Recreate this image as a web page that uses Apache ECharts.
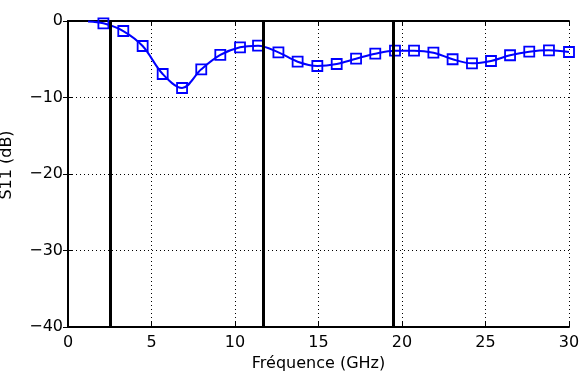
<!DOCTYPE html>
<html><head><meta charset="utf-8">
<script src="https://cdn.jsdelivr.net/npm/echarts@6/dist/echarts.min.js"></script>
<style>html,body{margin:0;padding:0;background:#fff}#c{width:582px;height:372px}</style>
</head><body><div id="c"></div>
<script>
var freqGHz = [1.2, 2.12, 3.31, 4.47, 5.67, 6.83, 7.98, 9.12, 10.30, 11.38, 12.6, 13.75, 14.93, 16.09, 17.25, 18.40, 19.58, 20.72, 21.88, 23.03, 24.19, 25.33, 26.47, 27.62, 28.8, 30.0];
var s11dB = [-0.05, -0.3, -1.31, -3.27, -6.93, -8.76, -6.32, -4.44, -3.44, -3.22, -4.1, -5.32, -5.88, -5.62, -4.93, -4.27, -3.88, -3.88, -4.14, -5.0, -5.53, -5.23, -4.48, -4.01, -3.83, -4.05];
var bandEdges = [2.5, 11.7, 19.45];
var xTicks = [0, 5, 10, 15, 20, 25, 30];
var yTicks = [-40, -30, -20, -10, 0];

var font = 'DejaVu Sans, sans-serif';
var data = freqGHz.map(function (f, i) {
  var it = { value: [f, s11dB[i]] };
  if (i === 0) it.symbol = 'none';
  return it;
});
function minus(v) { return String(v).replace('-', '\u2212'); }

var chart = echarts.init(document.getElementById('c'), null, { renderer: 'canvas' });
chart.setOption({
  animation: false,
  backgroundColor: '#fff',
  grid: { left: 68, right: 13, top: 21, bottom: 45, show: false, containLabel: false, outerBoundsMode: 'none' },
  xAxis: [{
    type: 'value', min: xTicks[0], max: xTicks[xTicks.length - 1], interval: 5,
    name: 'Fréquence (GHz)', nameLocation: 'middle', nameGap: 27,
    nameTextStyle: { fontFamily: font, fontSize: 16, color: '#000' },
    axisLine: { show: true, onZero: false, lineStyle: { color: '#000', width: 2 } },
    axisTick: { show: true, inside: true, length: 5, lineStyle: { color: '#000' } },
    axisLabel: { fontFamily: font, fontSize: 16, color: '#000', margin: 8 },
    splitLine: { show: true, lineStyle: { color: '#000', type: [1, 3], width: 1 } }
  }, {
    type: 'value', position: 'top', min: 0, max: 30, interval: 5,
    axisLine: { show: true, lineStyle: { color: '#000', width: 2 } },
    axisTick: { show: true, inside: true, length: 5, lineStyle: { color: '#000' } },
    axisLabel: { show: false }, splitLine: { show: false }
  }],
  yAxis: [{
    type: 'value', min: yTicks[0], max: yTicks[yTicks.length - 1], interval: 10,
    name: 'S11 (dB)', nameLocation: 'middle', nameGap: 53, nameRotate: 90,
    nameTextStyle: { fontFamily: font, fontSize: 16, color: '#000', padding: [0, 0, 0, 18] },
    axisLine: { show: true, onZero: false, lineStyle: { color: '#000', width: 2 } },
    axisTick: { show: true, inside: true, length: 5, lineStyle: { color: '#000' } },
    axisLabel: { fontFamily: font, fontSize: 16, color: '#000', margin: 5, formatter: minus },
    splitLine: { show: true, lineStyle: { color: '#000', type: [1, 3], width: 1 } }
  }, {
    type: 'value', position: 'right', min: -40, max: 0, interval: 10,
    axisLine: { show: true, lineStyle: { color: '#000', width: 2 } },
    axisTick: { show: true, inside: true, length: 5, lineStyle: { color: '#000' } },
    axisLabel: { show: false }, splitLine: { show: false }
  }],
  series: [{
    type: 'line',
    data: data,
    smooth: 0.35,
    clip: false,
    symbol: 'rect',
    symbolSize: 10,
    showAllSymbol: true,
    lineStyle: { color: '#0000ff', width: 2 },
    itemStyle: { color: 'rgba(0,0,0,0)', borderColor: '#0000ff', borderWidth: 1.8 },
    markLine: {
      silent: true, symbol: 'none', label: { show: false },
      lineStyle: { color: '#000', width: 3, type: 'solid' },
      data: bandEdges.map(function (x) { return { xAxis: x }; })
    },
    z: 3
  }]
});
</script></body></html>
